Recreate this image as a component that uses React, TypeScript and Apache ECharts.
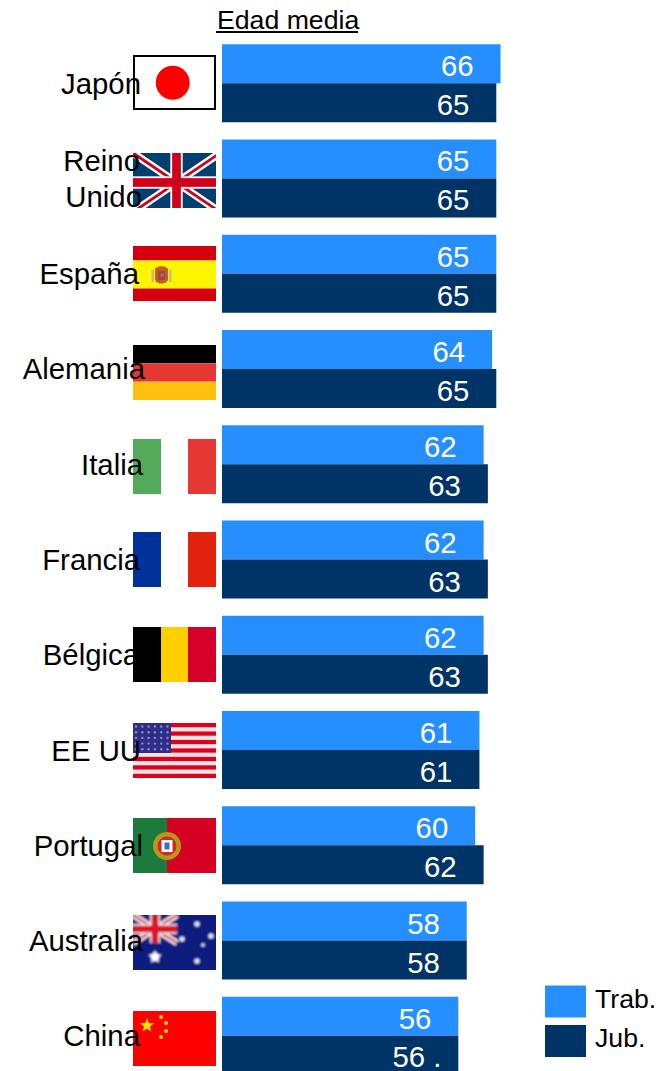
import React, { useEffect, useRef } from "react";
import * as echarts from "echarts";

const countries = ["Japón", "Reino\nUnido", "España", "Alemania", "Italia", "Francia", "Bélgica", "EE UU", "Portugal", "Australia", "China"];
const trabValues = [66, 65, 65, 64, 62, 62, 62, 61, 60, 58, 56];
const jubValues = [65, 65, 65, 65, 63, 63, 63, 61, 62, 58, 56];
const titleText = "Edad media";
const seriesNames = ["Trab.", "Jub."];

const FONT = "Liberation Sans";
const LIGHT = "#268FFF";
const DARK = "#003366";

// right-side inset of each label line, in px (labels are not perfectly aligned in the reference)
const labelInsets = [[4], [5, 3], [6], [0], [2], [5], [6], [4], [2], [2], [5]];
const flagTops = [55, 153, 246, 345, 439, 532, 627, 723, 818, 915, 1011];

const W = 83, H = 55;
const star = (cx: number, cy: number, r: number, fill: string, rot = -90) => {
  const pts: string[] = [];
  for (let i = 0; i < 10; i++) {
    const rr = i % 2 ? r * 0.42 : r;
    const a = ((rot + i * 36) * Math.PI) / 180;
    pts.push(`${(cx + rr * Math.cos(a)).toFixed(2)},${(cy + rr * Math.sin(a)).toFixed(2)}`);
  }
  return `<polygon points="${pts.join(" ")}" fill="${fill}"/>`;
};
const rect = (x: number, y: number, w: number, h: number, fill: string) => `<rect x="${x}" y="${y}" width="${w}" height="${h}" fill="${fill}"/>`;
const soft = (s: string, d = 0.6) => `<g filter="url(#s)">${s}</g><defs><filter id="s" x="-10%" y="-10%" width="120%" height="120%"><feGaussianBlur stdDeviation="${d}"/></filter></defs>`;
const union = (w: number, h: number, bg: string, red: string, sc: number) =>
  rect(-4, -4, w + 4, h + 4, bg) +
  `<path d="M0 0L${w} ${h}M${w} 0L0 ${h}" stroke="#fff" stroke-width="${8 * sc}"/>` +
  `<path d="M0 0L${w} ${h}M${w} 0L0 ${h}" stroke="${red}" stroke-width="${3 * sc}"/>` +
  rect(w / 2 - 6.5 * sc, -4, 13 * sc, h + 4, "#fff") + rect(-4, h / 2 - 6.5 * sc, w + 4, 13 * sc, "#fff") +
  rect(w / 2 - 4.6 * sc, -4, 9.2 * sc, h + 4, red) + rect(-4, h / 2 - 4.6 * sc, w + 4, 9.2 * sc, red);
const wide = (y: number, h: number, fill: string) => rect(-6, y, W + 12, h, fill);
const tall = (x: number, w: number, fill: string) => rect(x, -6, w, H + 12, fill);

const flagBodies = [
  rect(0, 0, W, H, "#fff") + `<rect x="1" y="1" width="81" height="53" fill="none" stroke="#000" stroke-width="2"/>` + soft(`<circle cx="39.7" cy="27.7" r="17" fill="#FF0000"/>`, 0.4),
  soft(rect(-6, -6, W + 12, H + 12, "#00406F") + union(W + 4, H + 4, "#00406F", "#D0021B", 0.95)),
  soft(
    wide(-6, 20.5, "#D40010") + wide(14.5, 28, "#FFF500") + wide(42.5, 20, "#D40010") +
      `<path d="M22 24C22 19 35 19 35 24V33C35 39 22 39 22 33Z" fill="#B8622A"/>` + rect(25, 25, 7, 9, "#C23A20") + `<circle cx="29" cy="29" r="2" fill="#7A6FA8"/>` + rect(18.5, 24, 2.5, 12, "#C8BC7A") + rect(36, 24, 2.5, 12, "#C8BC7A")
  ),
  soft(wide(-6, 24.3, "#000") + wide(18.3, 18.4, "#E53935") + wide(36.7, 24, "#FFC107"), 0.3),
  soft(tall(-6, 34, "#52AB5A") + tall(28, 27, "#fff") + tall(55, 34, "#E53935")),
  soft(tall(-6, 34, "#003399") + tall(28, 27, "#fff") + tall(55, 34, "#E3200F")),
  soft(tall(-6, 34, "#000") + tall(28, 27, "#FFD000") + tall(55, 34, "#D4002A")),
  soft(
    rect(-6, -6, W + 12, H + 12, "#F4E4E8") +
      [0, 2, 4, 6, 8, 10, 12].map((i) => wide((i * H) / 13, H / 13, "#E0001B")).join("") +
      rect(-6, -6, 44, 36, "#2E2E88") +
      [0, 1, 2, 3, 4].map((r) => [0, 1, 2, 3, 4, 5].map((c) => `<circle cx="${3 + c * 6.3}" cy="${3.5 + r * 5.7}" r="1.2" fill="#8A8AC8"/>`).join("")).join("")
  ),
  soft(
    tall(-6, 40, "#1E7A3C") + tall(34, 55, "#D50020") +
      `<circle cx="34" cy="28" r="14" fill="#B09A1E"/><circle cx="34" cy="28" r="9.5" fill="#E02020"/><rect x="28.5" y="22" width="11" height="12" fill="#fff"/><rect x="31.5" y="24.5" width="5" height="7" fill="#3070D0"/>`
  ),
  soft(
    rect(-6, -6, W + 12, H + 12, "#0D1A7E") +
      union(44, 28, "#1A1F80", "#D8142C", 0.75) +
      star(22, 42, 7, "#fff", -90) + `<circle cx="22" cy="42" r="4" fill="#fff"/>` +
      [[64, 9, 2.6], [49, 24, 2.6], [78, 21, 2.6], [70, 30, 1.8], [64, 46, 2.6]].map(([x, y, r]) => `<circle cx="${x}" cy="${y}" r="${r}" fill="#E4E8FF"/>`).join(""),
    0.8
  ),
  rect(0, 0, W, H, "#FF0000") +
    soft(star(14, 14.5, 7.5, "#FFE000") + [[28, 6], [33, 12], [33, 20], [28, 26]].map(([x, y]) => `<circle cx="${x}" cy="${y}" r="2" fill="#FFD800"/>`).join(""), 0.35),
];
const flagUri = (b: string) =>
  "data:image/svg+xml;charset=utf-8," + encodeURIComponent(`<svg xmlns="http://www.w3.org/2000/svg" width="${W}" height="${H}" viewBox="0 0 ${W} ${H}">${b}</svg>`);

export default function App() {
  const ref = useRef<HTMLDivElement>(null);
  useEffect(() => {
    const chart = echarts.init(ref.current!, undefined, { renderer: "svg" });
    const rich: Record<string, any> = {};
    labelInsets.forEach((ins, i) =>
      ins.forEach((p, j) => {
        rich[`l${i}_${j}`] = { padding: [0, p, 0, 0], fontFamily: FONT, fontSize: 29.33, color: "#000", lineHeight: 36 };
      })
    );
    const barLabel = {
      show: true,
      position: "insideRight" as const,
      distance: 27,
      offset: [0, 2],
      color: "#fff",
      fontFamily: FONT,
      fontSize: 29.33,
    };
    chart.setOption({
      animation: false,
      backgroundColor: "#fff",
      title: {
        text: titleText,
        left: 217,
        top: 6,
        padding: 0,
        textStyle: { fontFamily: FONT, fontSize: 26.67, fontWeight: "normal", color: "#000" },
      },
      grid: { left: 222, top: 35.5, width: 422, height: 1048, containLabel: false },
      xAxis: { type: "value", min: 0, max: 100, show: false },
      yAxis: {
        type: "category",
        inverse: true,
        data: countries,
        axisLine: { show: false },
        axisTick: { show: false },
        z: 5,
        axisLabel: {
          interval: 0,
          margin: 77,
          rich,
          formatter: (v: string) => {
            const i = countries.indexOf(v);
            return v.split("\n").map((t, j) => `{l${i}_${j}|${t}}`).join("\n");
          },
        },
      },
      legend: {
        orient: "vertical",
        left: 545,
        top: 985,
        padding: 0,
        itemWidth: 41,
        itemHeight: 32,
        itemGap: 7,
        icon: "rect",
        data: seriesNames,
        formatter: (n: string) => `{t|${n}}`,
        textStyle: {
          rich: { t: { fontFamily: FONT, fontSize: 26.67, color: "#000", padding: [0, 0, 6, 4] } },
        },
      },
      series: [
        {
          name: seriesNames[0],
          type: "bar",
          data: trabValues,
          barWidth: 39,
          barGap: 0,
          itemStyle: { color: LIGHT },
          label: barLabel,
        },
        {
          name: seriesNames[1],
          type: "bar",
          data: jubValues.map((v, i) =>
            i === jubValues.length - 1 ? { value: v, label: { formatter: `${v} .`, distance: 17, lineHeight: 24, offset: [0, 1] } } : v
          ),
          barWidth: 39,
          barGap: 0,
          itemStyle: { color: DARK },
          label: barLabel,
        },
      ],
      graphic: {
        z: -1,
        elements: [
          ...flagBodies.map((b, i) => ({
            type: "image",
            z: -1,
            style: { image: flagUri(b), x: 133, y: flagTops[i], width: W, height: H },
          })),
          { type: "line", shape: { x1: 216, y1: 32, x2: 358, y2: 32 }, style: { stroke: "#000", lineWidth: 2 } },
        ],
      },
    });
    return () => chart.dispose();
  }, []);
  return (
    <div style={{ position: "absolute", left: 0, top: 0, width: 668, height: 1071, overflow: "hidden" }}>
      <div ref={ref} style={{ width: 668, height: 1085 }} />
    </div>
  );
}
